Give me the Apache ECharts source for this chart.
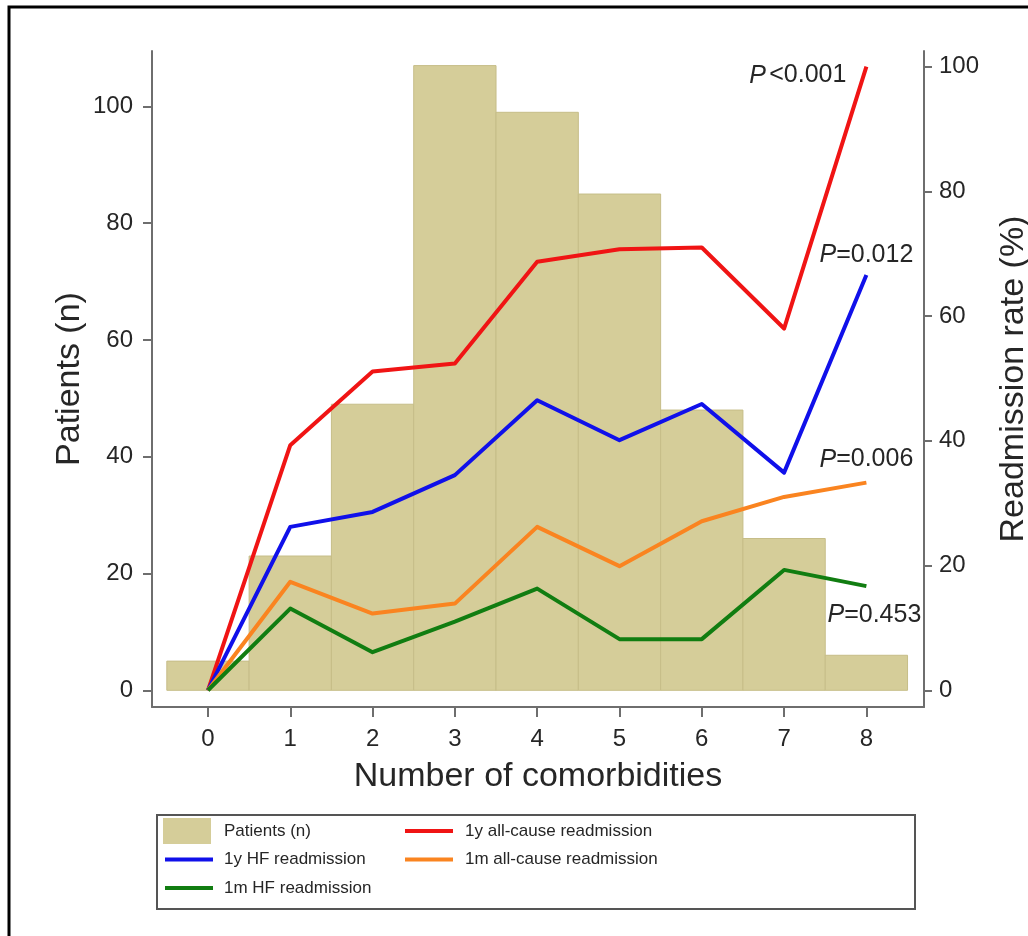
<!DOCTYPE html>
<html>
<head>
<meta charset="utf-8">
<script src="https://cdn.jsdelivr.net/npm/echarts@6/dist/echarts.min.js"></script>
<style>
html,body{margin:0;padding:0;background:#fff;overflow:hidden;}
#chart{width:1028px;height:936px;}
</style>
</head>
<body>
<div id="chart"></div>
<script>
// ---- data ----
const comorbidities = [0, 1, 2, 3, 4, 5, 6, 7, 8];
const patients = [5, 23, 49, 107, 99, 85, 48, 26, 6];
const allCause1y = [0, 39.3, 51.1, 52.4, 68.7, 70.7, 71.0, 58.0, 100];
const hf1y = [0, 26.2, 28.6, 34.5, 46.5, 40.1, 45.9, 34.9, 66.6];
const allCause1m = [0, 17.4, 12.3, 13.9, 26.2, 19.9, 27.1, 31.0, 33.3];
const hf1m = [0, 13.1, 6.1, 11.0, 16.3, 8.2, 8.2, 19.3, 16.7];
const pAllCause1y = '<0.001';
const pHf1y = '=0.012';
const pAllCause1m = '=0.006';
const pHf1m = '=0.453';
const leftTicks = [0, 20, 40, 60, 80, 100];
const rightTicks = [0, 20, 40, 60, 80, 100];
const xTicks = [0, 1, 2, 3, 4, 5, 6, 7, 8];

const FONT = "'Liberation Sans', Arial, sans-serif";
const AXIS_COLOR = '#6e6e6e';
const TEXT_COLOR = '#262626';
const BAR_COLOR = '#d5cd99';

const chart = echarts.init(document.getElementById('chart'), null, {renderer: 'canvas', width: 1028, height: 936});

function pairs(xs, ys) { return xs.map((x, i) => [x, ys[i]]); }

function lineSeries(name, values, color, pText, labelOpt) {
  const last = values.length - 1;
  return {
    name: name,
    type: 'line',
    xAxisIndex: 0,
    yAxisIndex: 1,
    data: pairs(comorbidities, values),
    symbol: 'none',
    showSymbol: false,
    z: 5,
    lineStyle: {color: color, width: 4, join: 'round'},
    itemStyle: {color: color},
    markPoint: {
      symbol: 'circle',
      symbolSize: 0,
      silent: true,
      data: [{
        coord: [comorbidities[last], values[last]],
        label: Object.assign({
          show: true,
          position: 'inside',
          formatter: '{p|P}{v|' + pText + '}',
          rich: {
            p: {fontStyle: 'italic', fontSize: 25, fontFamily: FONT, color: TEXT_COLOR},
            v: {fontSize: 25, fontFamily: FONT, color: TEXT_COLOR}
          }
        }, labelOpt)
      }]
    }
  };
}

function legendItem(name, left, top, isBar, textPad) {
  return {
    orient: 'vertical',
    left: left,
    top: top,
    itemWidth: 48,
    itemHeight: 26,
    padding: 0,
    selectedMode: false,
    lineStyle: {width: 4},
    textStyle: {fontSize: 17, color: TEXT_COLOR, fontFamily: FONT, padding: [0, 0, 0, textPad]},
    data: [isBar ? {name: name, icon: 'rect'} : {name: name, itemStyle: {opacity: 0}}]
  };
}

const option = {
  animation: false,
  backgroundColor: '#ffffff',
  textStyle: {fontFamily: FONT},
  grid: {left: 152, right: 104, top: 51, bottom: 229, containLabel: false, outerBoundsMode: 'none'},
  xAxis: {
    type: 'value',
    min: -0.68,
    max: 8.70,
    name: 'Number of comorbidities',
    nameLocation: 'middle',
    nameGap: 53,
    nameMoveOverlap: false,
    nameTextStyle: {fontSize: 34, color: TEXT_COLOR, fontFamily: FONT},
    axisLine: {show: true, onZero: false, lineStyle: {color: AXIS_COLOR, width: 2}},
    axisTick: {show: true, length: 10, customValues: xTicks, lineStyle: {color: AXIS_COLOR, width: 2}},
    axisLabel: {customValues: xTicks, fontSize: 24, color: TEXT_COLOR, margin: 20, fontFamily: FONT},
    splitLine: {show: false}
  },
  yAxis: [{
    type: 'value',
    position: 'left',
    min: -2.86,
    max: 109.5,
    name: 'Patients (n)',
    nameLocation: 'middle',
    nameRotate: 90,
    nameGap: 65,
    nameMoveOverlap: false,
    nameTextStyle: {fontSize: 34, color: TEXT_COLOR, fontFamily: FONT},
    axisLine: {show: true, onZero: false, lineStyle: {color: AXIS_COLOR, width: 2}},
    axisTick: {show: true, length: 9, customValues: leftTicks, lineStyle: {color: AXIS_COLOR, width: 2}},
    axisLabel: {customValues: leftTicks, fontSize: 24, color: TEXT_COLOR, margin: 19, fontFamily: FONT},
    splitLine: {show: false}
  }, {
    type: 'value',
    position: 'right',
    min: -2.68,
    max: 102.5,
    name: 'Readmission rate (%)',
    nameLocation: 'middle',
    nameRotate: 90,
    nameGap: 73,
    nameMoveOverlap: false,
    nameTextStyle: {fontSize: 34, color: TEXT_COLOR, fontFamily: FONT},
    axisLine: {show: true, onZero: false, lineStyle: {color: AXIS_COLOR, width: 2}},
    axisTick: {show: true, length: 8, customValues: rightTicks, lineStyle: {color: AXIS_COLOR, width: 2}},
    axisLabel: {customValues: rightTicks, fontSize: 24, color: TEXT_COLOR, margin: 15, fontFamily: FONT},
    splitLine: {show: false}
  }],
  legend: [
    legendItem('Patients (n)', 163, 818, true, 8),
    legendItem('1y HF readmission', 163, 849, false, 6),
    legendItem('1m HF readmission', 163, 877.5, false, 6),
    legendItem('1y all-cause readmission', 403, 820.5, false, 7),
    legendItem('1m all-cause readmission', 403, 849, false, 7)
  ],
  graphic: [{
    type: 'rect',
    silent: true,
    shape: {x: 157, y: 815, width: 758, height: 94},
    style: {fill: 'none', stroke: '#555', lineWidth: 2}
  }, {
    type: 'rect',
    silent: true,
    shape: {x: 9, y: 7, width: 1100, height: 1100},
    style: {fill: 'none', stroke: '#000', lineWidth: 3}
  }],
  series: [{
    name: 'Patients (n)',
    type: 'custom',
    xAxisIndex: 0,
    yAxisIndex: 0,
    z: 2,
    itemStyle: {color: BAR_COLOR},
    encode: {x: 0, y: 1},
    data: pairs(comorbidities, patients),
    renderItem: function (params, api) {
      const x = api.value(0), y = api.value(1);
      const p0 = api.coord([x - 0.5, y]);
      const p1 = api.coord([x + 0.5, 0]);
      return {
        type: 'rect',
        shape: {x: p0[0], y: p0[1], width: p1[0] - p0[0], height: p1[1] - p0[1]},
        style: {fill: BAR_COLOR, stroke: '#c6bd88', lineWidth: 1}
      };
    }
  },
  lineSeries('1y all-cause readmission', allCause1y, '#f01414', pAllCause1y, {align: 'right', offset: [-20, 9], formatter: '{p|P} {v|' + pAllCause1y + '}'}),
  lineSeries('1y HF readmission', hf1y, '#1010ea', pHf1y, {offset: [0, -20]}),
  lineSeries('1m all-cause readmission', allCause1m, '#fa8420', pAllCause1m, {offset: [0, -23]}),
  lineSeries('1m HF readmission', hf1m, '#117d11', pHf1m, {offset: [8, 29]})
  ]
};

chart.setOption(option);
</script>
</body>
</html>
